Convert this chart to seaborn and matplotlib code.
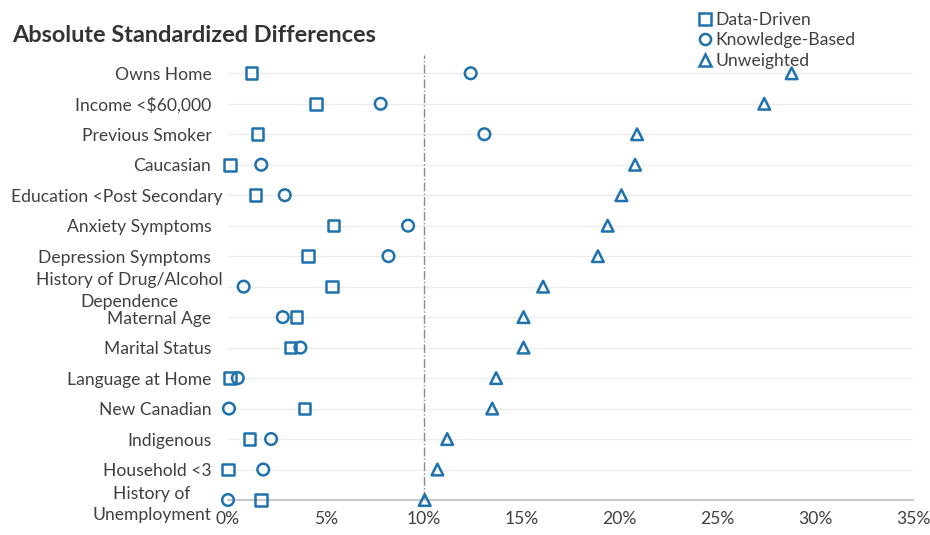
import pandas as pd
import numpy as np
import matplotlib.pyplot as plt
import matplotlib.transforms as mtransforms
import seaborn as sns
from matplotlib.lines import Line2D
from matplotlib.ticker import PercentFormatter

# data (percent)
covariates = [
    "Owns Home", "Income <$60,000", "Previous Smoker", "Caucasian",
    "Education <Post Secondary", "Anxiety Symptoms", "Depression Symptoms",
    "History of Drug/Alcohol\nDependence", "Maternal Age", "Marital Status",
    "Language at Home", "New Canadian", "Indigenous", "Household <3",
    "History of\nUnemployment",
]
data_driven = [1.2, 4.5, 1.5, 0.1, 1.4, 5.4, 4.1, 5.3, 3.5, 3.2, 0.1, 3.9, 1.1, 0.0, 1.7]
knowledge_based = [12.4, 7.8, 13.1, 1.7, 2.9, 9.2, 8.2, 0.8, 2.8, 3.7, 0.5, 0.05, 2.2, 1.8, 0.0]
unweighted = [28.8, 27.4, 20.9, 20.8, 20.1, 19.4, 18.9, 16.1, 15.1, 15.1, 13.7, 13.5, 11.2, 10.7, 10.05]
methods = ["Data-Driven", "Knowledge-Based", "Unweighted"]
x_ticks = [0, 5, 10, 15, 20, 25, 30, 35]

df = pd.DataFrame({
    "covariate": covariates * 3,
    "value": data_driven + knowledge_based + unweighted,
    "method": np.repeat(methods, len(covariates)),
})
df["pos"] = df["covariate"].map({c: i for i, c in enumerate(covariates)})

blue = "#1f72ad"
text_col = "#404040"
markers = {"Data-Driven": "s", "Knowledge-Based": "o", "Unweighted": "^"}

sns.set_style("white")
plt.rcParams["font.family"] = ["Lato", "DejaVu Sans"]

fig = plt.figure(figsize=(9.3, 5.35), dpi=100)
ax = fig.add_axes([228 / 930, 35 / 535, 685 / 930, 445 / 535])

for i in range(len(covariates)):
    ax.axhline(i, color="#ececec", lw=0.9, zorder=0)
ax.axvline(10, color="#8a8a8a", lw=1.0, ls="-.", zorder=1)

sns.scatterplot(
    data=df, x="value", y="pos", style="method", markers=markers,
    color=blue, facecolor="none", edgecolor=blue, linewidth=1.8,
    s=70, legend=False, ax=ax, zorder=3, clip_on=False,
)

ax.set_xlim(0, 35)
ax.set_ylim(len(covariates) - 1, -0.6)
ax.set_xticks(x_ticks)
ax.xaxis.set_major_formatter(PercentFormatter(decimals=0))
ax.set_yticks(range(len(covariates)))
ax.set_yticklabels(covariates, multialignment="center", linespacing=1.45)
ax.tick_params(axis="y", length=0, pad=12, labelsize=12.6, labelcolor=text_col)
ax.tick_params(axis="x", length=0, pad=8, labelsize=12.6, labelcolor=text_col)
ax.set_xlabel("")
ax.set_ylabel("")
for side in ["left", "right", "top"]:
    ax.spines[side].set_visible(False)
ax.spines["bottom"].set_color("#c8c8c8")
ax.spines["bottom"].set_linewidth(1.5)
ax.spines["bottom"].set_zorder(2)

# the two longest labels sit a bit further right in the original
for lab in ax.get_yticklabels():
    if lab.get_text().startswith(("Education", "History of Drug")):
        lab.set_transform(lab.get_transform() + mtransforms.ScaledTranslation(11 / 100, 0, fig.dpi_scale_trans))

fig.text(12 / 930, 1 - 35 / 535, "Absolute Standardized Differences",
         fontsize=16.9, fontweight="bold", color="#333333", va="center")

handles = [
    Line2D([], [], ls="none", marker=markers[m], markersize=8,
           markerfacecolor="none", markeredgecolor=blue, markeredgewidth=1.8)
    for m in methods
]
fig.legend(handles, methods, loc="upper left", bbox_to_anchor=(692 / 930, 1 - 5 / 535),
           frameon=False, fontsize=12.6, labelcolor=text_col, handlelength=0.7,
           handletextpad=0.25, labelspacing=0.25, borderaxespad=0)

fig.savefig("out.png", dpi=100)
plt.close(fig)
